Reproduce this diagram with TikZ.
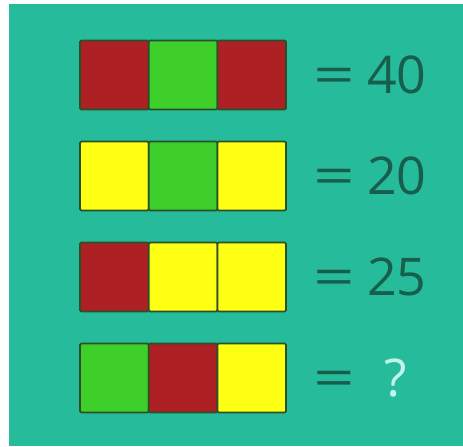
\documentclass[tikz,border=0pt]{standalone}
\usepackage{fontspec}
\setmainfont{Open Sans}
\usetikzlibrary{positioning}

\definecolor{bgteal}{HTML}{26BC9B}
\definecolor{cellred}{HTML}{AD2125}
\definecolor{cellgreen}{HTML}{3ECF2B}
\definecolor{cellyellow}{HTML}{FFFF14}
\definecolor{cellline}{HTML}{2B4F29}
\definecolor{numink}{HTML}{185E4D}
\definecolor{qink}{HTML}{C2F3EB}

\begin{document}
\begin{tikzpicture}[
    x=0.75pt, y=-0.75pt,
    node distance=24pt and 0pt,
    cell/.style={draw=cellline, fill=#1, line width=1.3pt, rounded corners=1pt,
        minimum width=51.5pt, minimum height=51.75pt, inner sep=0pt, outer sep=0pt},
    eqsign/.style={inner sep=0pt, text=numink, text height=27.8pt, text depth=0pt,
        font=\fontsize{39}{39}\selectfont},
    value/.style={inner sep=0pt, text=numink, text height=27.8pt, text depth=0pt,
        font=\fontsize{39}{39}\selectfont}
]
    % frame
    \useasboundingbox (0,0) rectangle (463,446);
    \fill[white] (0,0) rectangle (463,446);
    \fill[bgteal] (9,4) rectangle (463,446);

    % row 1
    \node[cell=cellred] (r1a) at (114.4,75) {};
    \node[cell=cellgreen, right=of r1a] (r1b) {};
    \node[cell=cellred, right=of r1b] (r1c) {};
    % row 2
    \node[cell=cellyellow, below=of r1a] (r2a) {};
    \node[cell=cellgreen, right=of r2a] (r2b) {};
    \node[cell=cellyellow, right=of r2b] (r2c) {};
    % row 3
    \node[cell=cellred, below=of r2a] (r3a) {};
    \node[cell=cellyellow, right=of r3a] (r3b) {};
    \node[cell=cellyellow, right=of r3b] (r3c) {};
    % row 4
    \node[cell=cellgreen, below=of r3a] (r4a) {};
    \node[cell=cellred, right=of r4a] (r4b) {};
    \node[cell=cellyellow, right=of r4b] (r4c) {};

    % results
    \node[eqsign, right=20pt of r1c] (eq1) {\scalebox{1.4}[1]{=}};
    \node[value, right=9pt of eq1] (v1) {40};
    \node[eqsign, right=20pt of r2c] (eq2) {\scalebox{1.4}[1]{=}};
    \node[value, right=9pt of eq2] (v2) {20};
    \node[eqsign, right=20pt of r3c] (eq3) {\scalebox{1.4}[1]{=}};
    \node[value, right=9pt of eq3] (v3) {25};
    \node[eqsign, right=20pt of r4c] (eq4) {\scalebox{1.4}[1]{=}};
    \node[value, text=qink, right=22pt of eq4] (v4) {?};
\end{tikzpicture}
\end{document}
